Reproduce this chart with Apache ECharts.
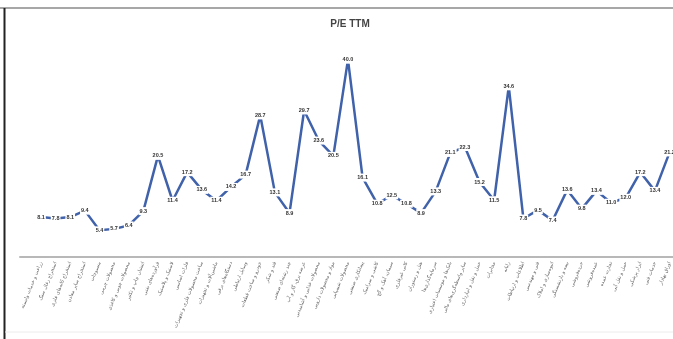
<!DOCTYPE html>
<html>
<head>
<meta charset="utf-8">
<script src="https://cdn.jsdelivr.net/npm/echarts@6/dist/echarts.min.js"></script>
<style>
  html, body { margin: 0; padding: 0; background: #fff; }
  #chart { width: 673px; height: 339px; }
</style>
</head>
<body>
<div id="chart"></div>
<script>
// Industry groups along the category axis
const categories = [
  'زراعت و خدمات وابسته',
  'استخراج زغال سنگ',
  'استخراج کانه‌های فلزی',
  'استخراج سایر معادن',
  'منسوجات',
  'محصولات چرمی',
  'محصولات چوبی و کاغذی',
  'انتشار، چاپ و تکثیر',
  'فرآورده‌های نفتی',
  'لاستیک و پلاستیک',
  'فلزات اساسی',
  'ساخت محصولات فلزی و تجهیزات',
  'ماشین‌آلات و تجهیزات',
  'دستگاه‌های برقی',
  'وسایل ارتباطی',
  'خودرو و ساخت قطعات',
  'قند و شکر',
  'چند رشته‌ای صنعتی',
  'عرضه برق، گاز و آب',
  'محصولات غذایی و آشامیدنی',
  'مواد و محصولات دارویی',
  'محصولات شیمیایی',
  'پیمانکاری صنعتی',
  'کاشی و سرامیک',
  'سیمان، آهک و گچ',
  'کانی غیرفلزی',
  'هتل و رستوران',
  'سرمایه‌گذاری‌ها',
  'بانک‌ها و موسسات اعتباری',
  'سایر واسطه‌گری‌های مالی',
  'حمل و نقل و انبارداری',
  'مخابرات',
  'رایانه',
  'اطلاعات و ارتباطات',
  'فنی و مهندسی',
  'انبوه‌سازی و املاک',
  'بیمه و بازنشستگی',
  'خرده‌فروشی',
  'عمده‌فروشی',
  'تجارت عمده',
  'حمل و نقل آبی',
  'ابزار پزشکی',
  'خدمات فنی',
  'اوراق بهادار'
];

// P/E (trailing twelve months) per group
const peTTM = [
  8.1, 7.8, 8.1, 9.4, 5.4, 5.7, 6.4, 9.3, 20.5, 11.4,
  17.2, 13.6, 11.4, 14.2, 16.7, 28.7, 13.1, 8.9, 29.7, 23.6,
  20.5, 40.0, 16.1, 10.8, 12.5, 10.8, 8.9, 13.3, 21.1, 22.3,
  15.2, 11.5, 34.6, 7.8, 9.5, 7.4, 13.6, 9.8, 13.4, 11.0,
  12.0, 17.2, 13.4, 21.2
];

const chart = echarts.init(document.getElementById('chart'));

chart.setOption({
  animation: false,
  backgroundColor: '#ffffff',
  title: {
    text: 'P/E TTM',
    left: 345,
    top: 14,
    textAlign: 'center',
    textStyle: {
      fontFamily: 'Liberation Sans',
      fontSize: 10,
      fontWeight: 'bold',
      color: '#444'
    }
  },
  graphic: [
    { type: 'line', shape: { x1: 0, y1: 8, x2: 673, y2: 8 }, style: { stroke: '#8a8a8a', lineWidth: 1.5 } },
    { type: 'line', shape: { x1: 4.5, y1: 8, x2: 4.5, y2: 339 }, style: { stroke: '#222', lineWidth: 2 } },
    { type: 'line', shape: { x1: 5, y1: 332, x2: 673, y2: 332 }, style: { stroke: '#ececec', lineWidth: 1 } }
  ],
  grid: [
    { left: 41, right: 1, top: 35, bottom: 82 },
    { left: 20, right: 0, top: 35, bottom: 82 }
  ],
  xAxis: [
    {
      type: 'category',
      gridIndex: 0,
      data: categories,
      boundaryGap: false,
      axisLine: { show: false },
      axisTick: { show: false },
      axisLabel: {
        interval: 0,
        rotate: 68,
        margin: 5,
        fontFamily: 'DejaVu Sans',
        fontSize: 5,
        color: '#666'
      }
    },
    {
      type: 'value',
      gridIndex: 1,
      min: 0,
      max: 1,
      axisLine: { show: true, onZero: false, lineStyle: { color: '#b8b8b8', width: 2 } },
      axisTick: { show: false },
      axisLabel: { show: false },
      splitLine: { show: false }
    }
  ],
  yAxis: [
    { type: 'value', gridIndex: 0, min: 0, max: 45, show: false, splitLine: { show: false } },
    { type: 'value', gridIndex: 1, min: 0, max: 1, show: false, splitLine: { show: false } }
  ],
  series: [
    {
      type: 'line',
      xAxisIndex: 0,
      yAxisIndex: 0,
      data: peTTM,
      symbol: 'circle',
      symbolSize: 2,
      itemStyle: { color: '#4062aa' },
      lineStyle: { color: '#4062aa', width: 2.5 },
      emphasis: { disabled: true },
      label: {
        show: true,
        position: 'inside',
        formatter: p => p.value.toFixed(1),
        fontFamily: 'Liberation Sans',
        fontSize: 5.5,
        fontWeight: 'bold',
        color: '#333',
        backgroundColor: '#ffffff',
        padding: [1, 1, 1, 1]
      }
    }
  ]
});
</script>
</body>
</html>
